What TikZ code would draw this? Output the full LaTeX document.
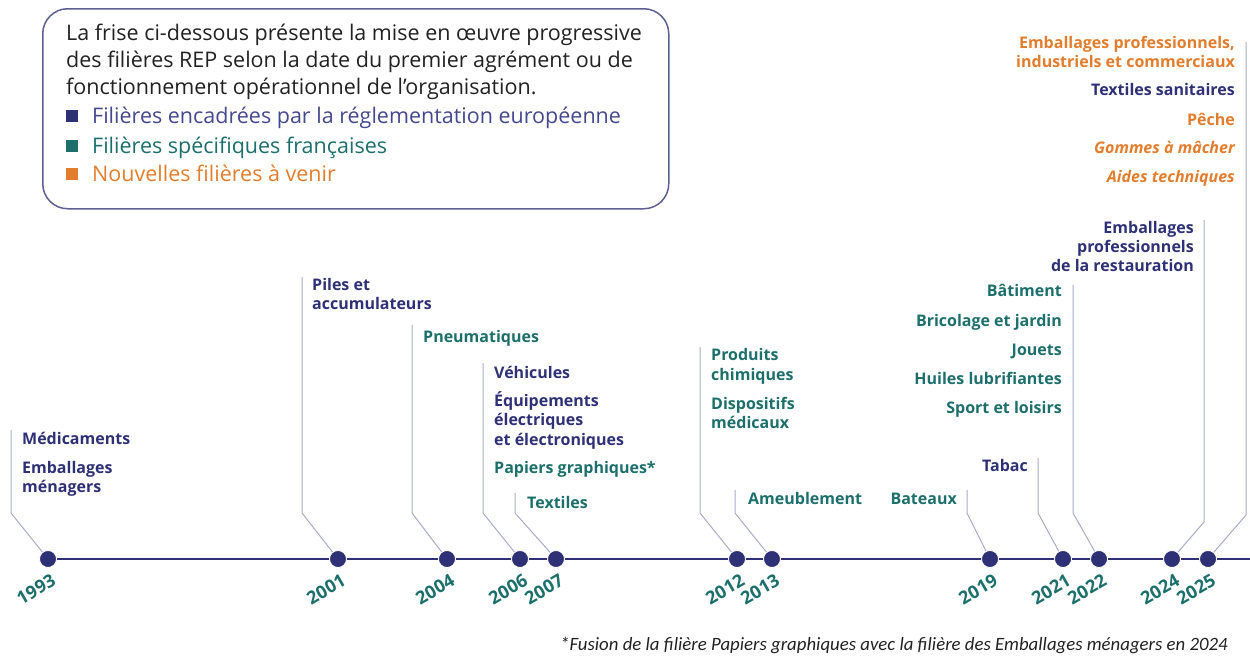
\documentclass[tikz,border=0pt]{standalone}
\usepackage{fontspec}
\setmainfont{Open Sans}
\newfontfamily\footfont{Carlito}
\definecolor{navy}{HTML}{2E3175}
\definecolor{navylt}{HTML}{44488F}
\definecolor{tealc}{HTML}{1C6F6B}
\definecolor{orangec}{HTML}{E27D2E}
\definecolor{linec}{HTML}{A9AACB}
\definecolor{boxc}{HTML}{5C5F90}
\definecolor{txtc}{HTML}{222222}
\begin{document}
\begin{tikzpicture}[x=1pt,y=-1pt,
  lab/.style={font=\fontsize{16}{18}\selectfont\bfseries, inner sep=0pt, anchor=base west},
  labr/.style={lab, anchor=base east},
  navyt/.style={text=navy},
  tealt/.style={text=tealc},
  oranget/.style={text=orangec},
  dot/.style={circle, fill=navy, draw=white, line width=0.8pt, minimum size=17pt, inner sep=0pt},
  conn/.style={draw=linec, line width=1pt},
  year/.style={font=\fontsize{18}{20}\selectfont\bfseries, text=tealc, rotate=30, anchor=east, inner sep=0pt},
  leg/.style={font=\fontsize{21.5}{24}\selectfont, inner sep=0pt, anchor=base west},
  sq/.style={minimum size=12pt, inner sep=0pt}]
\useasboundingbox (0,0) rectangle (1250,656);
% legend box
\node[draw=boxc, line width=1.5pt, rounded corners=25pt, minimum width=626pt, minimum height=200pt, anchor=north west, inner sep=0pt] (box) at (42,8) {};
\node[leg, text=txtc] (l1) at (66,40) {La frise ci-dessous présente la mise en œuvre progressive};
\node[leg, text=txtc] (l2) at (66,67) {des filières REP selon la date du premier agrément ou de};
\node[leg, text=txtc] (l3) at (66,94) {fonctionnement opérationnel de l’organisation.};
\node[sq, fill=navy] (s1) at (72,116) {};
\node[sq, fill=tealc] (s2) at (72,146) {};
\node[sq, fill=orangec] (s3) at (72,174) {};
\node[leg, text=navylt] (i1) at (92,123) {Filières encadrées par la réglementation européenne};
\node[leg, text=tealc] (i2) at (92,153) {Filières spécifiques françaises};
\node[leg, text=orangec] (i3) at (92,181) {Nouvelles filières à venir};
% timeline dots
\foreach \n/\x in {1993/48,2001/338,2004/447,2006/520,2007/556,2012/737,2013/772,2019/990,2021/1063,2022/1099,2024/1172,2025/1208}{
  \coordinate (p\n) at (\x,559);
}
\coordinate (tend) at (1250,559);
\draw[navy, line width=2.5pt] (p1993) -- (tend);
% connectors
\foreach \n/\tx/\ty/\bx/\by in {1993/11/430/11/513, 2001/302/277/302/513, 2004/412/325/412/513, 2006/483/363/483/513, 2007/515/493/515/513, 2012/700/347/700/513, 2013/735/490/735/513, 2019/967/490/967/513, 2021/1038/458/1038/513, 2022/1073/285/1073/513, 2024/1204/220/1204/522, 2025/1246/42/1246/515}{
  \coordinate (t\n) at (\tx,\ty);
  \coordinate (b\n) at (\bx,\by);
  \draw[conn] (t\n) -- (b\n) -- (p\n);
}
\foreach \n in {1993,2001,2004,2006,2007,2012,2013,2019,2021,2022,2024,2025}{
  \node[dot] (d\n) at (p\n) {};
}
% years
\foreach \n/\x in {1993/48,2001/338,2004/447,2006/520,2007/556,2012/737,2013/772,2019/990,2021/1063,2022/1099,2024/1172,2025/1208}{
  \node[year] (y\n) at (\x+6,579) {\n};
}
% labels
\node[lab, navyt] (a1) at (22,444) {Médicaments};
\node[lab, navyt] (a2) at (22,473) {Emballages};
\node[lab, navyt] (a3) at (22,492) {ménagers};
\node[lab, navyt] (b1) at (312,290) {Piles et};
\node[lab, navyt] (b2) at (312,309) {accumulateurs};
\node[lab, tealt] (c1) at (423,342) {Pneumatiques};
\node[lab, navyt] (e1) at (494,378) {Véhicules};
\node[lab, navyt] (e2) at (494,406) {Équipements};
\node[lab, navyt] (e3) at (494,425) {électriques};
\node[lab, navyt] (e4) at (494,445) {et électroniques};
\node[lab, tealt] (e5) at (494,473) {Papiers graphiques*};
\node[lab, tealt] (f1) at (527,508) {Textiles};
\node[lab, tealt] (g1) at (711,360) {Produits};
\node[lab, tealt] (g2) at (711,380) {chimiques};
\node[lab, tealt] (g3) at (711,409) {Dispositifs};
\node[lab, tealt] (g4) at (711,428) {médicaux};
\node[lab, tealt] (h1) at (748,504) {Ameublement};
\node[labr, tealt] (k1) at (957,504) {Bateaux};
\node[labr, navyt] (m1) at (1028,471) {Tabac};
\node[labr, tealt] (n1) at (1062,296) {Bâtiment};
\node[labr, tealt] (n2) at (1062,326) {Bricolage et jardin};
\node[labr, tealt] (n3) at (1062,355) {Jouets};
\node[labr, tealt] (n4) at (1062,384) {Huiles lubrifiantes};
\node[labr, tealt] (n5) at (1062,413) {Sport et loisirs};
\node[labr, navyt] (q1) at (1194,233) {Emballages};
\node[labr, navyt] (q2) at (1194,252) {professionnels};
\node[labr, navyt] (q3) at (1194,271) {de la restauration};
\node[labr, oranget] (r1) at (1235,48) {Emballages professionnels,};
\node[labr, oranget] (r2) at (1235,67) {industriels et commerciaux};
\node[labr, navyt] (r3) at (1235,95) {Textiles sanitaires};
\node[labr, oranget] (r4) at (1235,125) {Pêche};
\node[labr, oranget, font=\fontsize{16}{18}\selectfont\bfseries\itshape] (r5) at (1235,153) {Gommes à mâcher};
\node[labr, oranget, font=\fontsize{16}{18}\selectfont\bfseries\itshape] (r6) at (1235,182) {Aides techniques};
% footnote
\node[inner sep=0pt, anchor=base east, font=\footfont\fontsize{18.8}{20}\selectfont\itshape, text=txtc] (fn) at (1228,650) {*Fusion de la filière Papiers graphiques avec la filière des Emballages ménagers en 2024};
\end{tikzpicture}
\end{document}
